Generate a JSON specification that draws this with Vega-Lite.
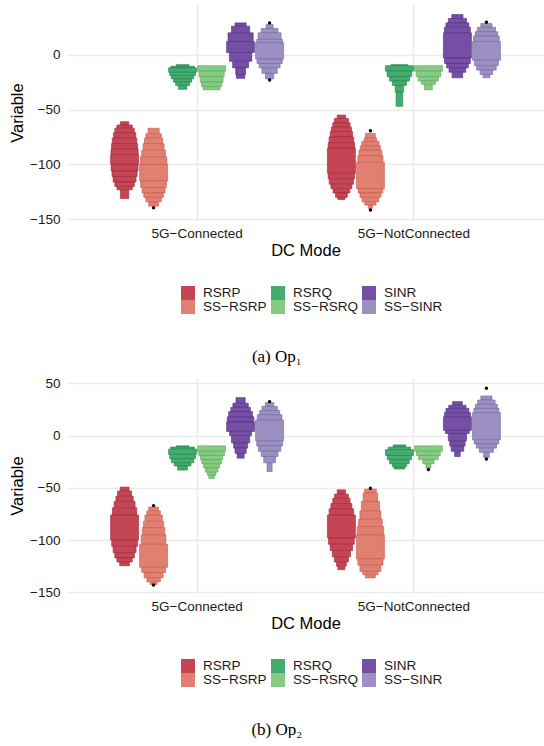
{
"$schema": "https://vega.github.io/schema/vega-lite/v6.json",
"background": "white",
"padding": {"left": 9, "top": 5, "right": 0, "bottom": 0},
"spacing": 11,
"config": {
  "view": {"stroke": null},
  "font": "Liberation Sans",
  "axis": {"labelFont": "Liberation Sans", "titleFont": "Liberation Sans", "domain": false, "ticks": false, "gridColor": "#ebebeb", "labelColor": "#1a1a1a", "titleColor": "#000000", "labelFontSize": 13.5, "titleFontSize": 16.5, "titleFontWeight": "normal"},
  "legend": {"labelFont": "Liberation Sans"}
},
"datasets": {
"vio": [
{"p":"a","m":"5G−Connected","s":"RSRP","lo":-61,"hi":-64,"w":0.3},
{"p":"a","m":"5G−Connected","s":"RSRP","lo":-64,"hi":-67,"w":0.55},
{"p":"a","m":"5G−Connected","s":"RSRP","lo":-67,"hi":-71,"w":0.7},
{"p":"a","m":"5G−Connected","s":"RSRP","lo":-71,"hi":-76,"w":0.8},
{"p":"a","m":"5G−Connected","s":"RSRP","lo":-76,"hi":-81,"w":0.88},
{"p":"a","m":"5G−Connected","s":"RSRP","lo":-81,"hi":-86,"w":0.93},
{"p":"a","m":"5G−Connected","s":"RSRP","lo":-86,"hi":-91,"w":0.97},
{"p":"a","m":"5G−Connected","s":"RSRP","lo":-91,"hi":-100,"w":1},
{"p":"a","m":"5G−Connected","s":"RSRP","lo":-100,"hi":-106,"w":0.96},
{"p":"a","m":"5G−Connected","s":"RSRP","lo":-106,"hi":-111,"w":0.9},
{"p":"a","m":"5G−Connected","s":"RSRP","lo":-111,"hi":-116,"w":0.82},
{"p":"a","m":"5G−Connected","s":"RSRP","lo":-116,"hi":-120,"w":0.7},
{"p":"a","m":"5G−Connected","s":"RSRP","lo":-120,"hi":-123,"w":0.55},
{"p":"a","m":"5G−Connected","s":"RSRP","lo":-123,"hi":-131,"w":0.3},
{"p":"a","m":"5G−Connected","s":"SS−RSRP","lo":-67,"hi":-72,"w":0.4},
{"p":"a","m":"5G−Connected","s":"SS−RSRP","lo":-72,"hi":-76,"w":0.55},
{"p":"a","m":"5G−Connected","s":"SS−RSRP","lo":-76,"hi":-81,"w":0.65},
{"p":"a","m":"5G−Connected","s":"SS−RSRP","lo":-81,"hi":-87,"w":0.75},
{"p":"a","m":"5G−Connected","s":"SS−RSRP","lo":-87,"hi":-93,"w":0.85},
{"p":"a","m":"5G−Connected","s":"SS−RSRP","lo":-93,"hi":-100,"w":0.95},
{"p":"a","m":"5G−Connected","s":"SS−RSRP","lo":-100,"hi":-115,"w":1},
{"p":"a","m":"5G−Connected","s":"SS−RSRP","lo":-115,"hi":-121,"w":0.92},
{"p":"a","m":"5G−Connected","s":"SS−RSRP","lo":-121,"hi":-126,"w":0.82},
{"p":"a","m":"5G−Connected","s":"SS−RSRP","lo":-126,"hi":-130,"w":0.7},
{"p":"a","m":"5G−Connected","s":"SS−RSRP","lo":-130,"hi":-134,"w":0.55},
{"p":"a","m":"5G−Connected","s":"SS−RSRP","lo":-134,"hi":-138,"w":0.35},
{"p":"a","m":"5G−Connected","s":"RSRQ","lo":-9,"hi":-10.5,"w":0.45},
{"p":"a","m":"5G−Connected","s":"RSRQ","lo":-10.5,"hi":-12,"w":0.85},
{"p":"a","m":"5G−Connected","s":"RSRQ","lo":-12,"hi":-16,"w":1},
{"p":"a","m":"5G−Connected","s":"RSRQ","lo":-16,"hi":-19,"w":0.92},
{"p":"a","m":"5G−Connected","s":"RSRQ","lo":-19,"hi":-22,"w":0.8},
{"p":"a","m":"5G−Connected","s":"RSRQ","lo":-22,"hi":-25,"w":0.65},
{"p":"a","m":"5G−Connected","s":"RSRQ","lo":-25,"hi":-28,"w":0.5},
{"p":"a","m":"5G−Connected","s":"RSRQ","lo":-28,"hi":-31.5,"w":0.3},
{"p":"a","m":"5G−Connected","s":"SS−RSRQ","lo":-10,"hi":-15,"w":1},
{"p":"a","m":"5G−Connected","s":"SS−RSRQ","lo":-15,"hi":-20,"w":0.9},
{"p":"a","m":"5G−Connected","s":"SS−RSRQ","lo":-20,"hi":-25,"w":0.82},
{"p":"a","m":"5G−Connected","s":"SS−RSRQ","lo":-25,"hi":-29,"w":0.72},
{"p":"a","m":"5G−Connected","s":"SS−RSRQ","lo":-29,"hi":-32,"w":0.6},
{"p":"a","m":"5G−Connected","s":"SINR","lo":29,"hi":26,"w":0.4},
{"p":"a","m":"5G−Connected","s":"SINR","lo":26,"hi":20,"w":0.65},
{"p":"a","m":"5G−Connected","s":"SINR","lo":20,"hi":12,"w":0.9},
{"p":"a","m":"5G−Connected","s":"SINR","lo":12,"hi":2,"w":1},
{"p":"a","m":"5G−Connected","s":"SINR","lo":2,"hi":-6,"w":0.8},
{"p":"a","m":"5G−Connected","s":"SINR","lo":-6,"hi":-12,"w":0.57},
{"p":"a","m":"5G−Connected","s":"SINR","lo":-12,"hi":-18,"w":0.35},
{"p":"a","m":"5G−Connected","s":"SINR","lo":-18,"hi":-21.5,"w":0.3},
{"p":"a","m":"5G−Connected","s":"SS−SINR","lo":27.5,"hi":24,"w":0.25},
{"p":"a","m":"5G−Connected","s":"SS−SINR","lo":24,"hi":20,"w":0.6},
{"p":"a","m":"5G−Connected","s":"SS−SINR","lo":20,"hi":14,"w":0.82},
{"p":"a","m":"5G−Connected","s":"SS−SINR","lo":14,"hi":11,"w":0.92},
{"p":"a","m":"5G−Connected","s":"SS−SINR","lo":11,"hi":-4,"w":1},
{"p":"a","m":"5G−Connected","s":"SS−SINR","lo":-4,"hi":-8,"w":0.9},
{"p":"a","m":"5G−Connected","s":"SS−SINR","lo":-8,"hi":-12,"w":0.75},
{"p":"a","m":"5G−Connected","s":"SS−SINR","lo":-12,"hi":-17,"w":0.55},
{"p":"a","m":"5G−Connected","s":"SS−SINR","lo":-17,"hi":-22,"w":0.3},
{"p":"a","m":"5G−NotConnected","s":"RSRP","lo":-55,"hi":-58,"w":0.3},
{"p":"a","m":"5G−NotConnected","s":"RSRP","lo":-58,"hi":-62,"w":0.5},
{"p":"a","m":"5G−NotConnected","s":"RSRP","lo":-62,"hi":-66,"w":0.62},
{"p":"a","m":"5G−NotConnected","s":"RSRP","lo":-66,"hi":-70,"w":0.72},
{"p":"a","m":"5G−NotConnected","s":"RSRP","lo":-70,"hi":-75,"w":0.8},
{"p":"a","m":"5G−NotConnected","s":"RSRP","lo":-75,"hi":-80,"w":0.88},
{"p":"a","m":"5G−NotConnected","s":"RSRP","lo":-80,"hi":-85,"w":0.94},
{"p":"a","m":"5G−NotConnected","s":"RSRP","lo":-85,"hi":-108,"w":1},
{"p":"a","m":"5G−NotConnected","s":"RSRP","lo":-108,"hi":-113,"w":0.95},
{"p":"a","m":"5G−NotConnected","s":"RSRP","lo":-113,"hi":-118,"w":0.87},
{"p":"a","m":"5G−NotConnected","s":"RSRP","lo":-118,"hi":-122,"w":0.75},
{"p":"a","m":"5G−NotConnected","s":"RSRP","lo":-122,"hi":-126,"w":0.6},
{"p":"a","m":"5G−NotConnected","s":"RSRP","lo":-126,"hi":-130,"w":0.42},
{"p":"a","m":"5G−NotConnected","s":"RSRP","lo":-130,"hi":-132,"w":0.25},
{"p":"a","m":"5G−NotConnected","s":"SS−RSRP","lo":-71.7,"hi":-76,"w":0.35},
{"p":"a","m":"5G−NotConnected","s":"SS−RSRP","lo":-76,"hi":-79,"w":0.45},
{"p":"a","m":"5G−NotConnected","s":"SS−RSRP","lo":-79,"hi":-83,"w":0.62},
{"p":"a","m":"5G−NotConnected","s":"SS−RSRP","lo":-83,"hi":-87,"w":0.72},
{"p":"a","m":"5G−NotConnected","s":"SS−RSRP","lo":-87,"hi":-92,"w":0.82},
{"p":"a","m":"5G−NotConnected","s":"SS−RSRP","lo":-92,"hi":-98,"w":0.9},
{"p":"a","m":"5G−NotConnected","s":"SS−RSRP","lo":-98,"hi":-122,"w":1},
{"p":"a","m":"5G−NotConnected","s":"SS−RSRP","lo":-122,"hi":-126,"w":0.88},
{"p":"a","m":"5G−NotConnected","s":"SS−RSRP","lo":-126,"hi":-130,"w":0.75},
{"p":"a","m":"5G−NotConnected","s":"SS−RSRP","lo":-130,"hi":-134,"w":0.6},
{"p":"a","m":"5G−NotConnected","s":"SS−RSRP","lo":-134,"hi":-137,"w":0.4},
{"p":"a","m":"5G−NotConnected","s":"SS−RSRP","lo":-137,"hi":-140,"w":0.15},
{"p":"a","m":"5G−NotConnected","s":"RSRQ","lo":-9,"hi":-10,"w":0.6},
{"p":"a","m":"5G−NotConnected","s":"RSRQ","lo":-10,"hi":-15,"w":1},
{"p":"a","m":"5G−NotConnected","s":"RSRQ","lo":-15,"hi":-20,"w":0.88},
{"p":"a","m":"5G−NotConnected","s":"RSRQ","lo":-20,"hi":-24,"w":0.72},
{"p":"a","m":"5G−NotConnected","s":"RSRQ","lo":-24,"hi":-28,"w":0.5},
{"p":"a","m":"5G−NotConnected","s":"RSRQ","lo":-28,"hi":-34,"w":0.3},
{"p":"a","m":"5G−NotConnected","s":"RSRQ","lo":-34,"hi":-47,"w":0.24},
{"p":"a","m":"5G−NotConnected","s":"SS−RSRQ","lo":-10,"hi":-15,"w":1},
{"p":"a","m":"5G−NotConnected","s":"SS−RSRQ","lo":-15,"hi":-20,"w":0.88},
{"p":"a","m":"5G−NotConnected","s":"SS−RSRQ","lo":-20,"hi":-24,"w":0.72},
{"p":"a","m":"5G−NotConnected","s":"SS−RSRQ","lo":-24,"hi":-27,"w":0.5},
{"p":"a","m":"5G−NotConnected","s":"SS−RSRQ","lo":-27,"hi":-32,"w":0.28},
{"p":"a","m":"5G−NotConnected","s":"SINR","lo":36.6,"hi":33,"w":0.4},
{"p":"a","m":"5G−NotConnected","s":"SINR","lo":33,"hi":29,"w":0.65},
{"p":"a","m":"5G−NotConnected","s":"SINR","lo":29,"hi":25,"w":0.82},
{"p":"a","m":"5G−NotConnected","s":"SINR","lo":25,"hi":20,"w":0.93},
{"p":"a","m":"5G−NotConnected","s":"SINR","lo":20,"hi":-3,"w":1},
{"p":"a","m":"5G−NotConnected","s":"SINR","lo":-3,"hi":-8,"w":0.92},
{"p":"a","m":"5G−NotConnected","s":"SINR","lo":-8,"hi":-12,"w":0.78},
{"p":"a","m":"5G−NotConnected","s":"SINR","lo":-12,"hi":-16,"w":0.6},
{"p":"a","m":"5G−NotConnected","s":"SINR","lo":-16,"hi":-21,"w":0.38},
{"p":"a","m":"5G−NotConnected","s":"SS−SINR","lo":28.4,"hi":25,"w":0.4},
{"p":"a","m":"5G−NotConnected","s":"SS−SINR","lo":25,"hi":21,"w":0.65},
{"p":"a","m":"5G−NotConnected","s":"SS−SINR","lo":21,"hi":17,"w":0.8},
{"p":"a","m":"5G−NotConnected","s":"SS−SINR","lo":17,"hi":12,"w":0.92},
{"p":"a","m":"5G−NotConnected","s":"SS−SINR","lo":12,"hi":-5,"w":1},
{"p":"a","m":"5G−NotConnected","s":"SS−SINR","lo":-5,"hi":-10,"w":0.85},
{"p":"a","m":"5G−NotConnected","s":"SS−SINR","lo":-10,"hi":-14,"w":0.7},
{"p":"a","m":"5G−NotConnected","s":"SS−SINR","lo":-14,"hi":-18,"w":0.45},
{"p":"a","m":"5G−NotConnected","s":"SS−SINR","lo":-18,"hi":-21,"w":0.25},
{"p":"b","m":"5G−Connected","s":"RSRP","lo":-49.3,"hi":-53,"w":0.32},
{"p":"b","m":"5G−Connected","s":"RSRP","lo":-53,"hi":-58,"w":0.5},
{"p":"b","m":"5G−Connected","s":"RSRP","lo":-58,"hi":-63,"w":0.62},
{"p":"b","m":"5G−Connected","s":"RSRP","lo":-63,"hi":-69,"w":0.75},
{"p":"b","m":"5G−Connected","s":"RSRP","lo":-69,"hi":-76,"w":0.87},
{"p":"b","m":"5G−Connected","s":"RSRP","lo":-76,"hi":-100,"w":1},
{"p":"b","m":"5G−Connected","s":"RSRP","lo":-100,"hi":-106,"w":0.92},
{"p":"b","m":"5G−Connected","s":"RSRP","lo":-106,"hi":-112,"w":0.82},
{"p":"b","m":"5G−Connected","s":"RSRP","lo":-112,"hi":-117,"w":0.7},
{"p":"b","m":"5G−Connected","s":"RSRP","lo":-117,"hi":-121,"w":0.55},
{"p":"b","m":"5G−Connected","s":"RSRP","lo":-121,"hi":-124.5,"w":0.35},
{"p":"b","m":"5G−Connected","s":"SS−RSRP","lo":-68.4,"hi":-72,"w":0.35},
{"p":"b","m":"5G−Connected","s":"SS−RSRP","lo":-72,"hi":-76,"w":0.48},
{"p":"b","m":"5G−Connected","s":"SS−RSRP","lo":-76,"hi":-82,"w":0.62},
{"p":"b","m":"5G−Connected","s":"SS−RSRP","lo":-82,"hi":-88,"w":0.72},
{"p":"b","m":"5G−Connected","s":"SS−RSRP","lo":-88,"hi":-95,"w":0.8},
{"p":"b","m":"5G−Connected","s":"SS−RSRP","lo":-95,"hi":-104,"w":0.88},
{"p":"b","m":"5G−Connected","s":"SS−RSRP","lo":-104,"hi":-126,"w":1},
{"p":"b","m":"5G−Connected","s":"SS−RSRP","lo":-126,"hi":-131,"w":0.85},
{"p":"b","m":"5G−Connected","s":"SS−RSRP","lo":-131,"hi":-136,"w":0.68},
{"p":"b","m":"5G−Connected","s":"SS−RSRP","lo":-136,"hi":-140,"w":0.48},
{"p":"b","m":"5G−Connected","s":"SS−RSRP","lo":-140,"hi":-142.5,"w":0.25},
{"p":"b","m":"5G−Connected","s":"RSRQ","lo":-9.8,"hi":-11,"w":0.45},
{"p":"b","m":"5G−Connected","s":"RSRQ","lo":-11,"hi":-13,"w":0.85},
{"p":"b","m":"5G−Connected","s":"RSRQ","lo":-13,"hi":-18,"w":1},
{"p":"b","m":"5G−Connected","s":"RSRQ","lo":-18,"hi":-22,"w":0.92},
{"p":"b","m":"5G−Connected","s":"RSRQ","lo":-22,"hi":-26,"w":0.8},
{"p":"b","m":"5G−Connected","s":"RSRQ","lo":-26,"hi":-29,"w":0.6},
{"p":"b","m":"5G−Connected","s":"RSRQ","lo":-29,"hi":-33,"w":0.35},
{"p":"b","m":"5G−Connected","s":"SS−RSRQ","lo":-9.8,"hi":-15,"w":1},
{"p":"b","m":"5G−Connected","s":"SS−RSRQ","lo":-15,"hi":-19,"w":0.92},
{"p":"b","m":"5G−Connected","s":"SS−RSRQ","lo":-19,"hi":-23,"w":0.8},
{"p":"b","m":"5G−Connected","s":"SS−RSRQ","lo":-23,"hi":-27,"w":0.7},
{"p":"b","m":"5G−Connected","s":"SS−RSRQ","lo":-27,"hi":-31,"w":0.57},
{"p":"b","m":"5G−Connected","s":"SS−RSRQ","lo":-31,"hi":-35,"w":0.45},
{"p":"b","m":"5G−Connected","s":"SS−RSRQ","lo":-35,"hi":-38,"w":0.3},
{"p":"b","m":"5G−Connected","s":"SS−RSRQ","lo":-38,"hi":-41,"w":0.2},
{"p":"b","m":"5G−Connected","s":"SINR","lo":36.3,"hi":31,"w":0.33},
{"p":"b","m":"5G−Connected","s":"SINR","lo":31,"hi":27,"w":0.55},
{"p":"b","m":"5G−Connected","s":"SINR","lo":27,"hi":23,"w":0.7},
{"p":"b","m":"5G−Connected","s":"SINR","lo":23,"hi":18,"w":0.85},
{"p":"b","m":"5G−Connected","s":"SINR","lo":18,"hi":13,"w":0.95},
{"p":"b","m":"5G−Connected","s":"SINR","lo":13,"hi":4,"w":1},
{"p":"b","m":"5G−Connected","s":"SINR","lo":4,"hi":0,"w":0.78},
{"p":"b","m":"5G−Connected","s":"SINR","lo":0,"hi":-7,"w":0.65},
{"p":"b","m":"5G−Connected","s":"SINR","lo":-7,"hi":-12,"w":0.5},
{"p":"b","m":"5G−Connected","s":"SINR","lo":-12,"hi":-17,"w":0.4},
{"p":"b","m":"5G−Connected","s":"SINR","lo":-17,"hi":-21.6,"w":0.25},
{"p":"b","m":"5G−Connected","s":"SS−SINR","lo":31.6,"hi":28,"w":0.3},
{"p":"b","m":"5G−Connected","s":"SS−SINR","lo":28,"hi":24,"w":0.55},
{"p":"b","m":"5G−Connected","s":"SS−SINR","lo":24,"hi":20,"w":0.72},
{"p":"b","m":"5G−Connected","s":"SS−SINR","lo":20,"hi":15,"w":0.88},
{"p":"b","m":"5G−Connected","s":"SS−SINR","lo":15,"hi":-5,"w":1},
{"p":"b","m":"5G−Connected","s":"SS−SINR","lo":-5,"hi":-10,"w":0.92},
{"p":"b","m":"5G−Connected","s":"SS−SINR","lo":-10,"hi":-15,"w":0.8},
{"p":"b","m":"5G−Connected","s":"SS−SINR","lo":-15,"hi":-20,"w":0.6},
{"p":"b","m":"5G−Connected","s":"SS−SINR","lo":-20,"hi":-26,"w":0.42},
{"p":"b","m":"5G−Connected","s":"SS−SINR","lo":-26,"hi":-34.4,"w":0.18},
{"p":"b","m":"5G−NotConnected","s":"RSRP","lo":-51.9,"hi":-56,"w":0.3},
{"p":"b","m":"5G−NotConnected","s":"RSRP","lo":-56,"hi":-60,"w":0.5},
{"p":"b","m":"5G−NotConnected","s":"RSRP","lo":-60,"hi":-65,"w":0.62},
{"p":"b","m":"5G−NotConnected","s":"RSRP","lo":-65,"hi":-70,"w":0.75},
{"p":"b","m":"5G−NotConnected","s":"RSRP","lo":-70,"hi":-76,"w":0.88},
{"p":"b","m":"5G−NotConnected","s":"RSRP","lo":-76,"hi":-98,"w":1},
{"p":"b","m":"5G−NotConnected","s":"RSRP","lo":-98,"hi":-104,"w":0.92},
{"p":"b","m":"5G−NotConnected","s":"RSRP","lo":-104,"hi":-110,"w":0.8},
{"p":"b","m":"5G−NotConnected","s":"RSRP","lo":-110,"hi":-116,"w":0.65},
{"p":"b","m":"5G−NotConnected","s":"RSRP","lo":-116,"hi":-121,"w":0.5},
{"p":"b","m":"5G−NotConnected","s":"RSRP","lo":-121,"hi":-125,"w":0.35},
{"p":"b","m":"5G−NotConnected","s":"RSRP","lo":-125,"hi":-128.3,"w":0.25},
{"p":"b","m":"5G−NotConnected","s":"SS−RSRP","lo":-51.2,"hi":-55,"w":0.42},
{"p":"b","m":"5G−NotConnected","s":"SS−RSRP","lo":-55,"hi":-63,"w":0.52},
{"p":"b","m":"5G−NotConnected","s":"SS−RSRP","lo":-63,"hi":-72,"w":0.65},
{"p":"b","m":"5G−NotConnected","s":"SS−RSRP","lo":-72,"hi":-80,"w":0.75},
{"p":"b","m":"5G−NotConnected","s":"SS−RSRP","lo":-80,"hi":-87,"w":0.85},
{"p":"b","m":"5G−NotConnected","s":"SS−RSRP","lo":-87,"hi":-95,"w":0.95},
{"p":"b","m":"5G−NotConnected","s":"SS−RSRP","lo":-95,"hi":-118,"w":1},
{"p":"b","m":"5G−NotConnected","s":"SS−RSRP","lo":-118,"hi":-124,"w":0.9},
{"p":"b","m":"5G−NotConnected","s":"SS−RSRP","lo":-124,"hi":-130,"w":0.75},
{"p":"b","m":"5G−NotConnected","s":"SS−RSRP","lo":-130,"hi":-133,"w":0.55},
{"p":"b","m":"5G−NotConnected","s":"SS−RSRP","lo":-133,"hi":-136.2,"w":0.35},
{"p":"b","m":"5G−NotConnected","s":"RSRQ","lo":-8.9,"hi":-11,"w":0.45},
{"p":"b","m":"5G−NotConnected","s":"RSRQ","lo":-11,"hi":-13.5,"w":0.8},
{"p":"b","m":"5G−NotConnected","s":"RSRQ","lo":-13.5,"hi":-19,"w":1},
{"p":"b","m":"5G−NotConnected","s":"RSRQ","lo":-19,"hi":-23,"w":0.87},
{"p":"b","m":"5G−NotConnected","s":"RSRQ","lo":-23,"hi":-27,"w":0.7},
{"p":"b","m":"5G−NotConnected","s":"RSRQ","lo":-27,"hi":-30,"w":0.5},
{"p":"b","m":"5G−NotConnected","s":"RSRQ","lo":-30,"hi":-32,"w":0.38},
{"p":"b","m":"5G−NotConnected","s":"SS−RSRQ","lo":-9.8,"hi":-15,"w":1},
{"p":"b","m":"5G−NotConnected","s":"SS−RSRQ","lo":-15,"hi":-19,"w":0.85},
{"p":"b","m":"5G−NotConnected","s":"SS−RSRQ","lo":-19,"hi":-23,"w":0.7},
{"p":"b","m":"5G−NotConnected","s":"SS−RSRQ","lo":-23,"hi":-27,"w":0.4},
{"p":"b","m":"5G−NotConnected","s":"SS−RSRQ","lo":-27,"hi":-31,"w":0.18},
{"p":"b","m":"5G−NotConnected","s":"SINR","lo":32.5,"hi":29,"w":0.35},
{"p":"b","m":"5G−NotConnected","s":"SINR","lo":29,"hi":26,"w":0.62},
{"p":"b","m":"5G−NotConnected","s":"SINR","lo":26,"hi":22,"w":0.82},
{"p":"b","m":"5G−NotConnected","s":"SINR","lo":22,"hi":18,"w":0.93},
{"p":"b","m":"5G−NotConnected","s":"SINR","lo":18,"hi":5,"w":1},
{"p":"b","m":"5G−NotConnected","s":"SINR","lo":5,"hi":2,"w":0.85},
{"p":"b","m":"5G−NotConnected","s":"SINR","lo":2,"hi":-5,"w":0.65},
{"p":"b","m":"5G−NotConnected","s":"SINR","lo":-5,"hi":-10,"w":0.55},
{"p":"b","m":"5G−NotConnected","s":"SINR","lo":-10,"hi":-15,"w":0.45},
{"p":"b","m":"5G−NotConnected","s":"SINR","lo":-15,"hi":-20,"w":0.2},
{"p":"b","m":"5G−NotConnected","s":"SS−SINR","lo":37.9,"hi":34,"w":0.4},
{"p":"b","m":"5G−NotConnected","s":"SS−SINR","lo":34,"hi":30,"w":0.62},
{"p":"b","m":"5G−NotConnected","s":"SS−SINR","lo":30,"hi":26,"w":0.78},
{"p":"b","m":"5G−NotConnected","s":"SS−SINR","lo":26,"hi":22,"w":0.9},
{"p":"b","m":"5G−NotConnected","s":"SS−SINR","lo":22,"hi":-4,"w":1},
{"p":"b","m":"5G−NotConnected","s":"SS−SINR","lo":-4,"hi":-8,"w":0.88},
{"p":"b","m":"5G−NotConnected","s":"SS−SINR","lo":-8,"hi":-12,"w":0.72},
{"p":"b","m":"5G−NotConnected","s":"SS−SINR","lo":-12,"hi":-16,"w":0.5},
{"p":"b","m":"5G−NotConnected","s":"SS−SINR","lo":-16,"hi":-21,"w":0.2}
],
"out": [
{"p":"a","m":"5G−Connected","s":"SS−RSRP","v":-139.5},
{"p":"a","m":"5G−Connected","s":"SS−SINR","v":29},
{"p":"a","m":"5G−Connected","s":"SS−SINR","v":-23},
{"p":"a","m":"5G−NotConnected","s":"SS−RSRP","v":-69.2},
{"p":"a","m":"5G−NotConnected","s":"SS−RSRP","v":-141.5},
{"p":"a","m":"5G−NotConnected","s":"SS−SINR","v":29.5},
{"p":"b","m":"5G−Connected","s":"SS−RSRP","v":-67},
{"p":"b","m":"5G−Connected","s":"SS−RSRP","v":-143},
{"p":"b","m":"5G−Connected","s":"SS−SINR","v":32.5},
{"p":"b","m":"5G−NotConnected","s":"SS−RSRP","v":-50.3},
{"p":"b","m":"5G−NotConnected","s":"SS−RSRQ","v":-32.4},
{"p":"b","m":"5G−NotConnected","s":"SS−SINR","v":45.2},
{"p":"b","m":"5G−NotConnected","s":"SS−SINR","v":-22.3}
]
},
"resolve": {"scale": {"y": "independent", "color": "independent"}, "legend": {"color": "independent"}},
"vconcat": [
{
  "width": 477, "height": 215,
  "title": {"text": "(a) Op₁", "orient": "bottom", "anchor": "middle", "frame": "bounds", "font": "Liberation Serif", "fontSize": 17, "fontWeight": "normal", "color": "#000000", "offset": 35},
  "encoding": {
    "x": {"field": "m", "type": "nominal", "title": "DC Mode",
      "scale": {"domain": ["5G−Connected", "5G−NotConnected"], "paddingInner": 0, "paddingOuter": 0.1},
      "axis": {"labelAngle": 0, "grid": true, "gridWidth": 1.6, "bandPosition": 0.5, "labelPadding": 6, "titlePadding": 3}},
    "xOffset": {"field": "s", "type": "nominal",
      "scale": {"domain": ["RSRP", "SS−RSRP", "RSRQ", "SS−RSRQ", "SINR", "SS−SINR"], "paddingInner": 0, "paddingOuter": 0.738}}
  },
  "layer": [
    {
      "data": {"name": "vio"},
      "transform": [{"filter": "datum.p === 'a'"}],
      "mark": {"type": "bar", "fillOpacity": 1, "strokeWidth": 0.7, "strokeOpacity": 0.85},
      "encoding": {
        "y": {"field": "lo", "type": "quantitative", "title": "Variable",
          "scale": {"domain": [-150.6, 45.3], "nice": false, "zero": false},
          "axis": {"values": [-150, -125, -100, -75, -50, -25, 0, 25], "labelExpr": "datum.value % 50 === 0 ? datum.label : ''",
            "gridWidth": {"condition": {"test": "datum.value % 50 === 0", "value": 1.6}, "value": 0.8}, "labelPadding": 7, "titlePadding": 4}},
        "y2": {"field": "hi"},
        "size": {"field": "w", "type": "quantitative", "scale": {"domain": [0, 1], "range": [0, 28]}, "legend": null},
        "color": {"field": "s", "type": "nominal",
          "scale": {"domain": ["RSRP", "SS−RSRP", "RSRQ", "SS−RSRQ", "SINR", "SS−SINR"], "range": ["#C44654", "#E08070", "#43AC6F", "#86CB84", "#754FA3", "#9B90C1"]},
          "legend": {"orient": "none", "legendX": 114, "legendY": 281, "columns": 3, "title": null, "symbolType": "square", "symbolSize": 196, "symbolStrokeWidth": 0, "symbolOpacity": 1, "rowPadding": 0, "columnPadding": 4, "labelOffset": 8, "labelFontSize": 13.5, "labelColor": "#1a1a1a", "padding": 0}},
        "stroke": {"field": "s", "type": "nominal",
          "scale": {"domain": ["RSRP", "SS−RSRP", "RSRQ", "SS−RSRQ", "SINR", "SS−SINR"], "range": ["#A3233A", "#C9584A", "#1E8049", "#55A85A", "#4F2A84", "#72659F"]},
          "legend": null}
      }
    },
    {
      "data": {"name": "out"},
      "transform": [{"filter": "datum.p === 'a'"}],
      "mark": {"type": "circle", "color": "#000000", "size": 12, "opacity": 1},
      "encoding": {"y": {"field": "v", "type": "quantitative", "title": "Variable"}}
    }
  ]
},
{
  "width": 477, "height": 215,
  "title": {"text": "(b) Op₂", "orient": "bottom", "anchor": "middle", "frame": "bounds", "font": "Liberation Serif", "fontSize": 17, "fontWeight": "normal", "color": "#000000", "offset": 35},
  "encoding": {
    "x": {"field": "m", "type": "nominal", "title": "DC Mode",
      "scale": {"domain": ["5G−Connected", "5G−NotConnected"], "paddingInner": 0, "paddingOuter": 0.1},
      "axis": {"labelAngle": 0, "grid": true, "gridWidth": 1.6, "bandPosition": 0.5, "labelPadding": 6, "titlePadding": 3}},
    "xOffset": {"field": "s", "type": "nominal",
      "scale": {"domain": ["RSRP", "SS−RSRP", "RSRQ", "SS−RSRQ", "SINR", "SS−SINR"], "paddingInner": 0, "paddingOuter": 0.738}}
  },
  "layer": [
    {
      "data": {"name": "vio"},
      "transform": [{"filter": "datum.p === 'b'"}],
      "mark": {"type": "bar", "fillOpacity": 1, "strokeWidth": 0.7, "strokeOpacity": 0.85},
      "encoding": {
        "y": {"field": "lo", "type": "quantitative", "title": "Variable",
          "scale": {"domain": [-150.6, 55.1], "nice": false, "zero": false},
          "axis": {"values": [-150, -125, -100, -75, -50, -25, 0, 25, 50], "labelExpr": "datum.value % 50 === 0 ? datum.label : ''",
            "gridWidth": {"condition": {"test": "datum.value % 50 === 0", "value": 1.6}, "value": 0.8}, "labelPadding": 7, "titlePadding": 4}},
        "y2": {"field": "hi"},
        "size": {"field": "w", "type": "quantitative", "scale": {"domain": [0, 1], "range": [0, 28]}, "legend": null},
        "color": {"field": "s", "type": "nominal",
          "scale": {"domain": ["RSRP", "SS−RSRP", "RSRQ", "SS−RSRQ", "SINR", "SS−SINR"], "range": ["#C44654", "#E08070", "#43AC6F", "#86CB84", "#754FA3", "#9B90C1"]},
          "legend": {"orient": "none", "legendX": 114, "legendY": 281, "columns": 3, "title": null, "symbolType": "square", "symbolSize": 196, "symbolStrokeWidth": 0, "symbolOpacity": 1, "rowPadding": 0, "columnPadding": 4, "labelOffset": 8, "labelFontSize": 13.5, "labelColor": "#1a1a1a", "padding": 0}},
        "stroke": {"field": "s", "type": "nominal",
          "scale": {"domain": ["RSRP", "SS−RSRP", "RSRQ", "SS−RSRQ", "SINR", "SS−SINR"], "range": ["#A3233A", "#C9584A", "#1E8049", "#55A85A", "#4F2A84", "#72659F"]},
          "legend": null}
      }
    },
    {
      "data": {"name": "out"},
      "transform": [{"filter": "datum.p === 'b'"}],
      "mark": {"type": "circle", "color": "#000000", "size": 12, "opacity": 1},
      "encoding": {"y": {"field": "v", "type": "quantitative", "title": "Variable"}}
    }
  ]
}
]
}
